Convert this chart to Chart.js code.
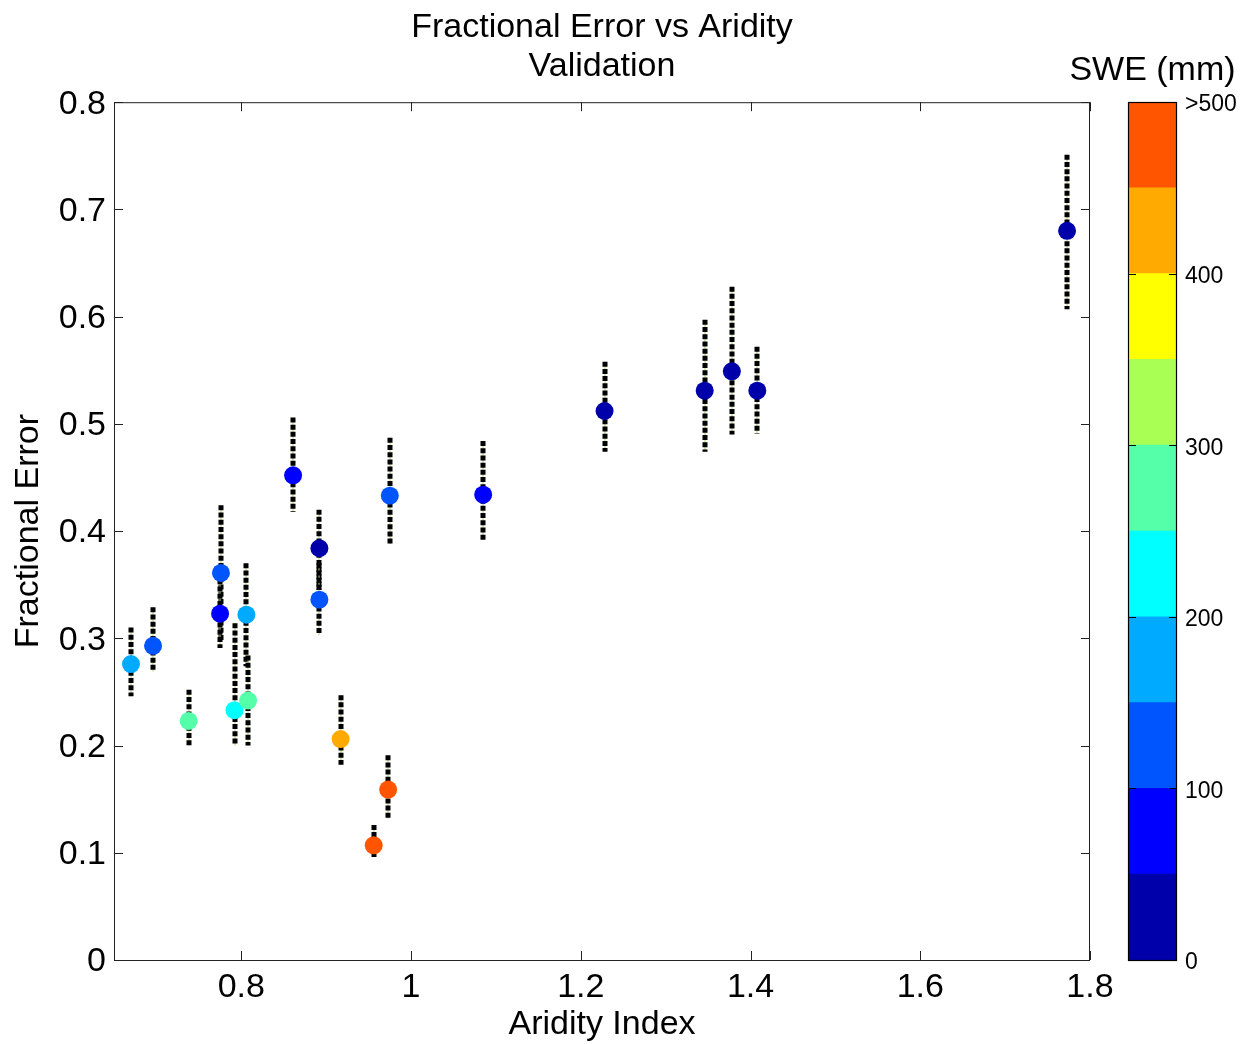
<!DOCTYPE html>
<html>
<head>
<meta charset="utf-8">
<script src="https://cdn.jsdelivr.net/npm/chart.js@4"></script>
<style>
  body { margin: 0; background: #fff; }
  #wrap { position: relative; width: 1252px; height: 1044px; }
  #main { position: absolute; left: 0; top: 0; }
  #cbar { position: absolute; left: 1040px; top: 0; }
</style>
</head>
<body>
<div id="wrap">
  <canvas id="main" width="1252" height="1044"></canvas>
  <canvas id="cbar" width="212" height="1044"></canvas>
</div>
<script>
// data
const aridity = [0.670, 0.696, 0.738, 0.776, 0.775, 0.792, 0.806, 0.808, 0.861, 0.892, 0.892,
                 0.975, 0.917, 0.973, 0.956, 1.085, 1.228, 1.346, 1.378, 1.408, 1.773];
const fracErr = [0.276, 0.293, 0.223, 0.361, 0.323, 0.233, 0.322, 0.242, 0.452, 0.384, 0.336,
                 0.433, 0.206, 0.159, 0.107, 0.434, 0.512, 0.531, 0.549, 0.531, 0.680];
const errLow  = [0.246, 0.269, 0.200, 0.298, 0.291, 0.200, 0.274, 0.200, 0.418, 0.345, 0.303,
                 0.388, 0.182, 0.132, 0.096, 0.392, 0.474, 0.474, 0.490, 0.491, 0.607];
const errHigh = [0.310, 0.329, 0.252, 0.424, 0.355, 0.314, 0.370, 0.284, 0.506, 0.420, 0.370,
                 0.487, 0.247, 0.191, 0.126, 0.484, 0.558, 0.597, 0.628, 0.572, 0.751];
const swe     = [175, 125, 275, 125, 75, 225, 175, 275, 75, 25, 125,
                 125, 425, 520, 540, 75, 25, 25, 25, 25, 25];

const xTicks = [0.8, 1, 1.2, 1.4, 1.6, 1.8];
const yTicks = [0, 0.1, 0.2, 0.3, 0.4, 0.5, 0.6, 0.7, 0.8];
const sweTicks = [0, 100, 200, 300, 400, 500];
const sweBins = [0, 50, 100, 150, 200, 250, 300, 350, 400, 450];
const jet = ['#0000AA', '#0000FF', '#0055FF', '#00AAFF', '#00FFFF',
             '#55FFAA', '#AAFF55', '#FFFF00', '#FFAA00', '#FF5500'];

const FONT = 'Liberation Sans, Arial, sans-serif';
const colorFor = v => jet[Math.min(jet.length - 1, Math.floor(v / 50))];

// dotted error bars, drawn under the markers
const errorBars = {
  id: 'errorBars',
  beforeDatasetsDraw(chart) {
    const { ctx, scales: { x, y } } = chart;
    ctx.save();
    aridity.forEach((a, i) => {
      const px = Math.round(x.getPixelForValue(a));
      const y0 = y.getPixelForValue(errLow[i]);
      const y1 = y.getPixelForValue(errHigh[i]);
      ctx.setLineDash([]);
      ctx.strokeStyle = '#a6d96a';
      ctx.lineWidth = 1;
      ctx.beginPath(); ctx.moveTo(px, y0); ctx.lineTo(px, y1); ctx.stroke();
      ctx.setLineDash([5, 2.2]);
      ctx.strokeStyle = '#000';
      ctx.lineWidth = 5;
      ctx.beginPath(); ctx.moveTo(px, y1); ctx.lineTo(px, y0); ctx.stroke();
    });
    ctx.restore();
  }
};

// matlab style box with inward ticks
const boxTicks = {
  id: 'boxTicks',
  afterDraw(chart) {
    const { ctx, chartArea: a, scales: { x, y } } = chart;
    ctx.save();
    ctx.strokeStyle = '#222';
    ctx.lineWidth = 1;
    ctx.strokeRect(a.left + 0.5, a.top + 0.5, a.right - a.left - 1, a.bottom - a.top);
    ctx.beginPath();
    xTicks.forEach(v => {
      const px = Math.round(x.getPixelForValue(v)) + 0.5;
      ctx.moveTo(px, a.bottom); ctx.lineTo(px, a.bottom - 9);
      ctx.moveTo(px, a.top); ctx.lineTo(px, a.top + 9);
    });
    yTicks.forEach(v => {
      const py = Math.round(y.getPixelForValue(v)) + 0.5;
      ctx.moveTo(a.left, py); ctx.lineTo(a.left + 9, py);
      ctx.moveTo(a.right, py); ctx.lineTo(a.right - 9, py);
    });
    ctx.stroke();
    ctx.restore();
  }
};

new Chart(document.getElementById('main'), {
  type: 'scatter',
  data: {
    datasets: [{
      label: 'Validation',
      data: aridity.map((a, i) => ({ x: a, y: fracErr[i] })),
      pointRadius: 9,
      pointHoverRadius: 9,
      pointBorderWidth: 0,
      pointBackgroundColor: swe.map(colorFor)
    }]
  },
  options: {
    responsive: false,
    animation: false,
    layout: { padding: { left: 0, right: 162, top: 0, bottom: 0 } },
    plugins: {
      legend: { display: false },
      tooltip: { enabled: false },
      title: {
        display: true,
        fullSize: false,
        text: ['Fractional Error vs Aridity', 'Validation'],
        color: '#000',
        font: { family: FONT, size: 34, weight: 'normal', lineHeight: 1.15 },
        padding: { top: 8, bottom: 16 }
      }
    },
    scales: {
      x: {
        type: 'linear',
        min: 0.65,
        max: 1.8,
        afterBuildTicks: s => { s.ticks = xTicks.map(v => ({ value: v })); },
        afterFit: s => { s.height = 84; },
        grid: { display: false },
        border: { display: false },
        ticks: { color: '#000', padding: 3, font: { family: FONT, size: 34, lineHeight: 1 },
                 callback: v => String(v) },
        title: { display: true, text: 'Aridity Index', color: '#000',
                 font: { family: FONT, size: 34, lineHeight: 1.15 }, padding: { top: 0, bottom: 0 } }
      },
      y: {
        type: 'linear',
        min: 0,
        max: 0.8,
        afterBuildTicks: s => { s.ticks = yTicks.map(v => ({ value: v })); },
        afterFit: s => { s.width = 114; },
        grid: { display: false },
        border: { display: false },
        ticks: { color: '#000', padding: 0, labelOffset: 2, font: { family: FONT, size: 34 },
                 callback: v => String(v) },
        title: { display: true, text: 'Fractional Error', color: '#000',
                 font: { family: FONT, size: 34, lineHeight: 1.15 }, padding: { top: 9, bottom: 0 } }
      }
    }
  },
  plugins: [errorBars, boxTicks]
});

// colour bar as a stacked bar chart
const cbarLabel = 'SWE (mm)';
const cbarFrame = {
  id: 'cbarFrame',
  afterDraw(chart) {
    const { ctx, chartArea: a, scales: { y } } = chart;
    ctx.save();
    ctx.strokeStyle = '#000';
    ctx.lineWidth = 1.2;
    ctx.strokeRect(a.left + 0.5, a.top + 0.5, a.right - a.left - 1, a.bottom - a.top);
    ctx.beginPath();
    sweTicks.slice(1, -1).forEach(v => {
      const py = Math.round(y.getPixelForValue(v)) + 0.5;
      ctx.moveTo(a.left, py); ctx.lineTo(a.left + 8, py);
      ctx.moveTo(a.right, py); ctx.lineTo(a.right - 8, py);
    });
    ctx.stroke();
    ctx.fillStyle = '#000';
    ctx.font = '34px ' + FONT;
    ctx.textAlign = 'center';
    ctx.textBaseline = 'middle';
    ctx.fillText(cbarLabel, (a.left + a.right) / 2, 71);
    ctx.restore();
  }
};

new Chart(document.getElementById('cbar'), {
  type: 'bar',
  data: {
    labels: ['SWE'],
    datasets: sweBins.map((b, i) => ({
      label: String(b),
      data: [50],
      backgroundColor: jet[i],
      borderWidth: 0,
      barPercentage: 1,
      categoryPercentage: 1
    }))
  },
  options: {
    responsive: false,
    animation: false,
    layout: { padding: { left: 88, right: 0, top: 102, bottom: 84 } },
    plugins: {
      legend: { display: false },
      tooltip: { enabled: false },
      title: { display: false }
    },
    scales: {
      x: { stacked: true, display: false },
      y: {
        stacked: true,
        position: 'right',
        min: 0,
        max: 500,
        afterBuildTicks: s => { s.ticks = sweTicks.map(v => ({ value: v })); },
        afterFit: s => { s.width = 75; },
        grid: { display: false },
        border: { display: false },
        ticks: {
          color: '#000',
          padding: 0,
          labelOffset: 3,
          font: { family: FONT, size: 23 },
          callback: v => (v === 500 ? '>500' : String(v))
        }
      }
    }
  },
  plugins: [cbarFrame]
});
</script>
</body>
</html>
